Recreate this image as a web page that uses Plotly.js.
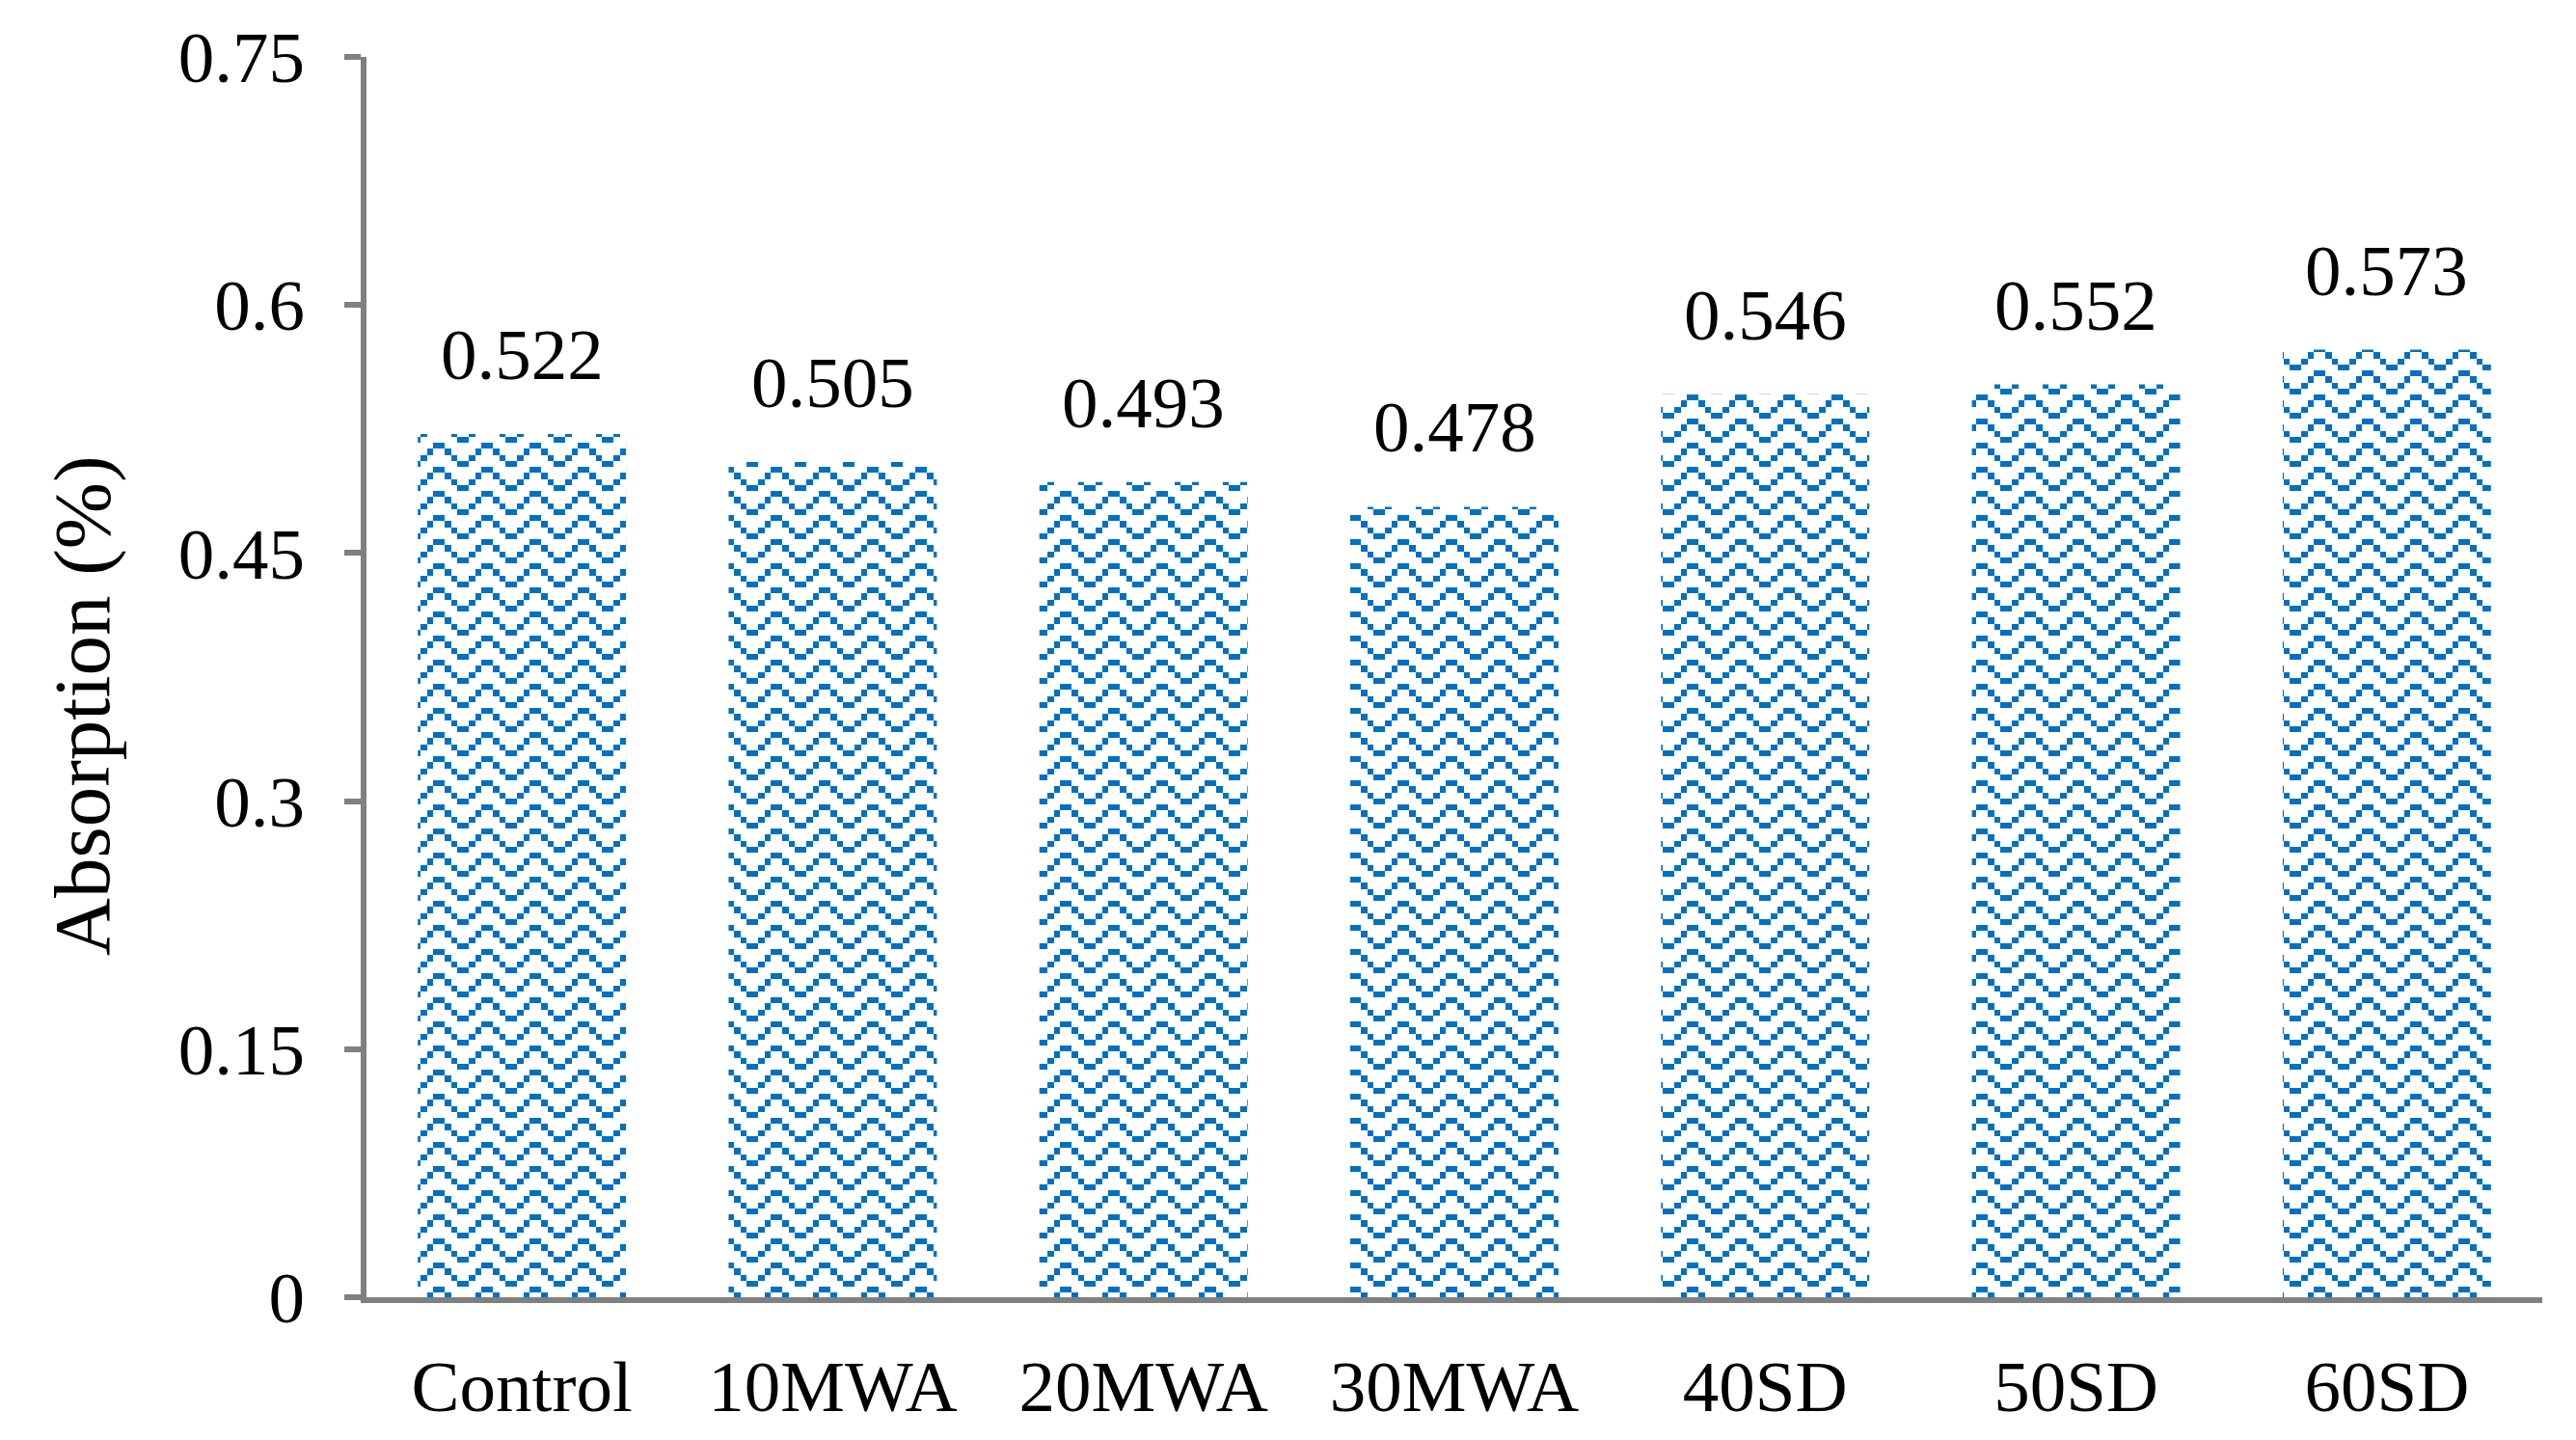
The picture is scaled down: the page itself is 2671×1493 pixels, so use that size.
<!DOCTYPE html>
<html><head><meta charset="utf-8">
<script src="https://cdn.plot.ly/plotly-3.0.1.min.js"></script>
<style>html,body{margin:0;padding:0;background:#fff;}</style>
</head><body>
<div id="chart" style="width:2671px;height:1493px;"></div>
<script>
const categories = ['Control','10MWA','20MWA','30MWA','40SD','50SD','60SD'];
const absorption = [0.522,0.505,0.493,0.478,0.546,0.552,0.573];
const yTickValues = [0,0.15,0.3,0.45,0.6,0.75];
const yTickLabels = ['0','0.15','0.3','0.45','0.6','0.75'];
const yTitle = 'Absorption (%)';
const barColor = '#0070C0';
const axisColor = '#808080';
const FONT = '"Liberation Serif", "Times New Roman", serif';

const trace = {
  type: 'bar',
  x: categories,
  y: absorption,
  marker: {
    color: barColor,
    line: {width: 0},
    pattern: {shape: '/', fgcolor: barColor, bgcolor: '#ffffff', size: 50, solidity: 0.2, fillmode: 'replace'}
  },
  hoverinfo: 'x+y'
};

const annotations = categories.map((c, i) => ({
  x: c, y: absorption[i], xref: 'x', yref: 'y',
  text: absorption[i].toFixed(3),
  showarrow: false, yanchor: 'bottom', yshift: 40, borderpad: 0,
  font: {family: FONT, size: 75, color: '#000'}
}));
annotations.push({
  xref: 'paper', yref: 'paper', x: -0.131, y: 0.477,
  xanchor: 'center', yanchor: 'middle', textangle: -90,
  text: yTitle, showarrow: false,
  font: {family: FONT, size: 83, color: '#000'}
});

const layout = {
  width: 2671, height: 1493,
  margin: {l: 380, r: 35, t: 59, b: 148},
  paper_bgcolor: '#fff', plot_bgcolor: '#fff',
  showlegend: false,
  bargap: 0.33,
  font: {family: FONT, size: 75, color: '#000'},
  xaxis: {
    type: 'category',
    showline: true, linecolor: axisColor, linewidth: 6,
    ticks: '', showgrid: false, zeroline: false,
    tickfont: {family: FONT, size: 75, color: '#000'},
    ticklabelstandoff: 22
  },
  yaxis: {
    range: [0, 0.75],
    tickvals: yTickValues, ticktext: yTickLabels,
    showline: true, linecolor: axisColor, linewidth: 6,
    ticks: 'outside', ticklen: 17, tickwidth: 6, tickcolor: axisColor,
    showgrid: false, zeroline: false,
    tickfont: {family: FONT, size: 75, color: '#000'},
    ticklabelstandoff: 26
  },
  annotations: annotations
};

function applyZigzag() {
  const ns = 'http://www.w3.org/2000/svg';
  const cell = 6.25;
  const rows = [[3,4],[2,5],[1,6],[0,7]];
  document.querySelectorAll('#chart pattern').forEach(p => {
    while (p.firstChild) p.removeChild(p.firstChild);
    p.setAttribute('patternUnits', 'userSpaceOnUse');
    p.setAttribute('width', 8 * cell);
    p.setAttribute('height', 4 * cell);
    p.removeAttribute('patternTransform');
    const bg = document.createElementNS(ns, 'rect');
    bg.setAttribute('x', 0); bg.setAttribute('y', 0);
    bg.setAttribute('width', 8 * cell); bg.setAttribute('height', 4 * cell);
    bg.setAttribute('fill', '#ffffff');
    p.appendChild(bg);
    rows.forEach((cols, r) => cols.forEach(c => {
      const rc = document.createElementNS(ns, 'rect');
      rc.setAttribute('x', c * cell); rc.setAttribute('y', r * cell);
      rc.setAttribute('width', cell); rc.setAttribute('height', cell);
      rc.setAttribute('fill', barColor);
      rc.setAttribute('shape-rendering', 'crispEdges');
      p.appendChild(rc);
    }));
  });
}

Plotly.newPlot('chart', [trace], layout, {staticPlot: true, displayModeBar: false}).then(applyZigzag);
</script>
</body></html>
